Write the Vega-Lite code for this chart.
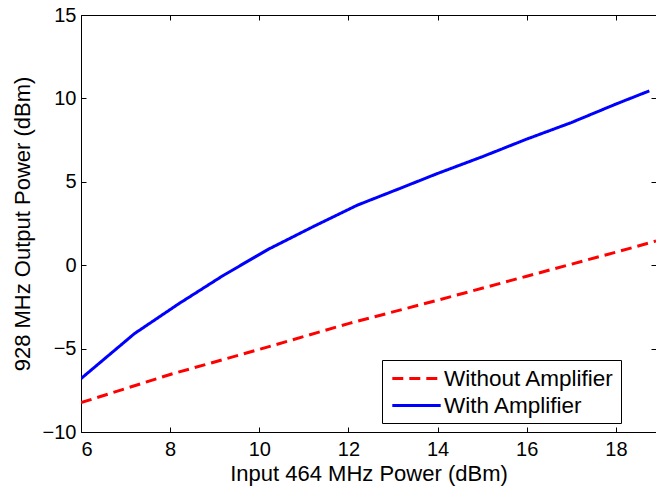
{
  "$schema": "https://vega.github.io/schema/vega-lite/v6.json",
  "autosize": {"type": "none"},
  "padding": {"left": 81, "top": 15, "right": 0, "bottom": 57},
  "width": 575,
  "height": 417,
  "background": "white",
  "config": {
    "font": "Liberation Sans",
    "view": {"stroke": "black", "strokeWidth": 1},
    "axis": {
      "labelFont": "Liberation Sans",
      "titleFont": "Liberation Sans",
      "labelColor": "black",
      "titleColor": "black",
      "titleFontWeight": "normal",
      "domain": false,
      "tickColor": "black",
      "tickSize": -5,
      "gridColor": "#b4b4b4",
      "gridDash": [8, 5],
      "gridWidth": 1
    },
    "legend": {
      "title": null, "orient": "none", "legendX": 301, "legendY": 345,
      "fillColor": "white", "strokeColor": "black", "padding": 6,
      "symbolType": "M-2.2,0H2.2", "symbolSize": 484, "symbolStrokeWidth": 3,
      "symbolOffset": 16, "labelOffset": 15, "labelLimit": 0,
      "labelFontSize": 22.5, "labelColor": "black", "labelFont": "Liberation Sans",
      "rowPadding": 3, "cornerRadius": 0
    }
  },
  "data": {
    "values": [
      {"x": 6.0, "y": -6.8, "s": "With Amplifier"},
      {"x": 7.2, "y": -4.1, "s": "With Amplifier"},
      {"x": 8.2, "y": -2.3, "s": "With Amplifier"},
      {"x": 9.2, "y": -0.6, "s": "With Amplifier"},
      {"x": 10.2, "y": 0.95, "s": "With Amplifier"},
      {"x": 11.2, "y": 2.3, "s": "With Amplifier"},
      {"x": 12.2, "y": 3.6, "s": "With Amplifier"},
      {"x": 13.2, "y": 4.65, "s": "With Amplifier"},
      {"x": 14.0, "y": 5.5, "s": "With Amplifier"},
      {"x": 15.0, "y": 6.5, "s": "With Amplifier"},
      {"x": 16.0, "y": 7.56, "s": "With Amplifier"},
      {"x": 17.0, "y": 8.55, "s": "With Amplifier"},
      {"x": 18.0, "y": 9.66, "s": "With Amplifier"},
      {"x": 18.75, "y": 10.45, "s": "With Amplifier"},
      {"x": 6.0, "y": -8.24, "s": "Without Amplifier"},
      {"x": 8.0, "y": -6.55, "s": "Without Amplifier"},
      {"x": 10.0, "y": -5.05, "s": "Without Amplifier"},
      {"x": 12.0, "y": -3.5, "s": "Without Amplifier"},
      {"x": 14.0, "y": -2.1, "s": "Without Amplifier"},
      {"x": 16.0, "y": -0.66, "s": "Without Amplifier"},
      {"x": 18.0, "y": 0.78, "s": "Without Amplifier"},
      {"x": 18.9, "y": 1.45, "s": "Without Amplifier"}
    ]
  },
  "layer": [
    {
      "mark": {"type": "line", "opacity": 0},
      "encoding": {
        "x": {
          "field": "x", "type": "quantitative",
          "scale": {"domain": [6, 18.9], "nice": false, "zero": false},
          "axis": {"orient": "top", "values": [6, 8, 10, 12, 14, 16, 18], "labels": false, "grid": false, "title": null}
        },
        "y": {
          "field": "y", "type": "quantitative",
          "scale": {"domain": [-10, 15], "nice": false, "zero": false},
          "axis": {"orient": "right", "values": [-10, -5, 0, 5, 10, 15], "labels": false, "grid": false, "title": null}
        },
        "detail": {"field": "s"}
      }
    },
    {
      "mark": {"type": "line", "strokeWidth": 3, "clip": true},
      "encoding": {
        "x": {
          "field": "x", "type": "quantitative",
          "scale": {"domain": [6, 18.9], "nice": false, "zero": false},
          "axis": {"values": [6, 8, 10, 12, 14, 16, 18], "title": "Input 464 MHz Power (dBm)", "labelFontSize": 20, "titleFontSize": 22, "labelPadding": 12, "titlePadding": 4}
        },
        "y": {
          "field": "y", "type": "quantitative",
          "scale": {"domain": [-10, 15], "nice": false, "zero": false},
          "axis": {"values": [-10, -5, 0, 5, 10, 15], "title": "928 MHz Output Power (dBm)", "labelFontSize": 20, "titleFontSize": 22, "labelPadding": 10, "titlePadding": 8}
        },
        "color": {
          "field": "s", "type": "nominal",
          "scale": {"domain": ["Without Amplifier", "With Amplifier"], "range": ["#ff0000", "#0000ff"]}
        },
        "strokeDash": {
          "field": "s", "type": "nominal",
          "scale": {"domain": ["Without Amplifier", "With Amplifier"], "range": [[11, 6], [1, 0]]}
        }
      }
    }
  ],
  "resolve": {"axis": {"x": "independent", "y": "independent"}}
}
